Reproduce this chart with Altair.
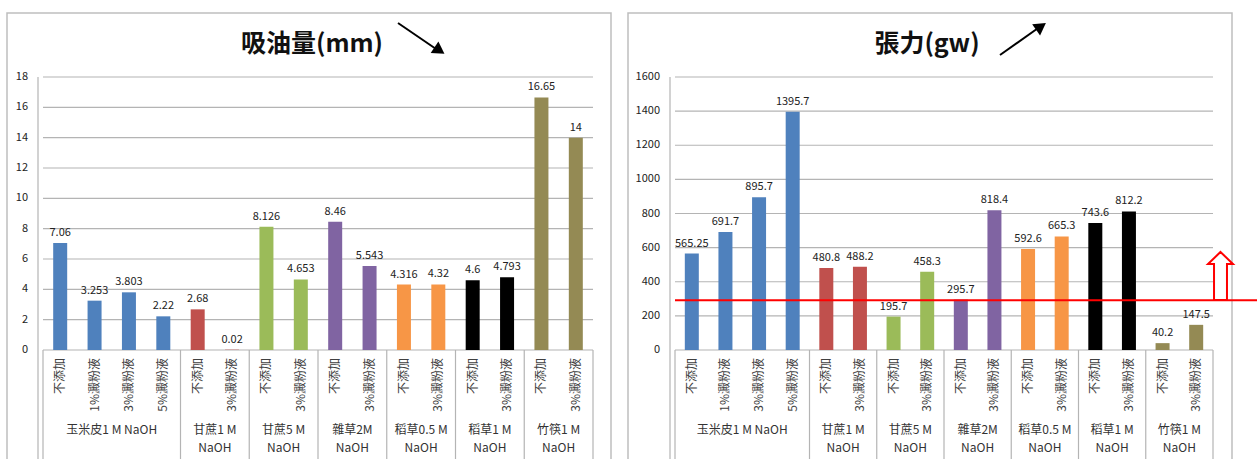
import altair as alt
import pandas as pd

# ---------------- data ----------------
groups = ["玉米皮1 M NaOH", "甘蔗1 M\nNaOH", "甘蔗5 M\nNaOH", "雜草2M\nNaOH",
          "稻草0.5 M\nNaOH", "稻草1 M\nNaOH", "竹筷1 M\nNaOH"]
group_sizes = [4, 2, 2, 2, 2, 2, 2]
group_colors = ["#4F81BD", "#C0504D", "#9BBB59", "#8064A2", "#F79646", "#000000", "#948A54"]
sub_labels = ["不添加", "1%澱粉液", "3%澱粉液", "5%澱粉液",
              "不添加", "3%澱粉液", "不添加", "3%澱粉液", "不添加", "3%澱粉液",
              "不添加", "3%澱粉液", "不添加", "3%澱粉液", "不添加", "3%澱粉液"]
oil_values = [7.06, 3.253, 3.803, 2.22, 2.68, 0.02, 8.126, 4.653,
              8.46, 5.543, 4.316, 4.32, 4.6, 4.793, 16.65, 14]
tension_values = [565.25, 691.7, 895.7, 1395.7, 480.8, 488.2, 195.7, 458.3,
                  295.7, 818.4, 592.6, 665.3, 743.6, 812.2, 40.2, 147.5]
oil_ticks = [0, 2, 4, 6, 8, 10, 12, 14, 16, 18]
tension_ticks = [0, 200, 400, 600, 800, 1000, 1200, 1400, 1600]
tension_threshold = 292

FONT = "Noto Sans CJK TC"
GRID = "#B4B4B4"
FRAME = "#BEBEBE"

# --------------- tables ---------------
n = len(sub_labels)
bar_group = []
for gi, s in enumerate(group_sizes):
    bar_group += [gi] * s
bounds = [0]
for s in group_sizes:
    bounds.append(bounds[-1] + s)
centers = [(bounds[i] + bounds[i + 1]) / 2 for i in range(len(groups))]

one = pd.DataFrame({"a": [0]})


def panel(values, ticks, ymax, xr, label_x, frame, title, title_x, arrow, extra=None):
    xs = alt.Scale(domain=[0, n], range=xr, nice=False, zero=False)
    ys = alt.Scale(domain=[0, ymax], range=[350, 77], nice=False, zero=False)
    bars = pd.DataFrame({
        "pos": [i + 0.5 for i in range(n)],
        "value": values,
        "sub": sub_labels,
        "color": [group_colors[g] for g in bar_group],
    })
    tick_df = pd.DataFrame({"t": ticks, "x0": [0] * len(ticks), "x1": [n] * len(ticks)})
    bound_df = pd.DataFrame({"b": bounds})
    grp_df = pd.DataFrame({"c": centers, "name": groups})

    X = lambda f: alt.X(f, type="quantitative", scale=xs, axis=None)
    Y = lambda f: alt.Y(f, type="quantitative", scale=ys, axis=None)

    frame_l = alt.Chart(one).mark_rect(fillOpacity=0, stroke=FRAME, strokeWidth=1.5).encode(
        x=alt.value(frame[0]), x2=alt.value(frame[1]), y=alt.value(13), y2=alt.value(480))
    grid = alt.Chart(tick_df).mark_rule(color=GRID, strokeWidth=1.2).encode(
        x=X("x0"), x2="x1", y=Y("t"))
    ylabels = alt.Chart(tick_df).mark_text(align="right", baseline="middle", font=FONT,
                                           fontSize=11, color="#222222").encode(
        x=alt.value(label_x), y=Y("t"), text=alt.Text("t:Q", format="d"))
    yaxis = alt.Chart(one).mark_rule(color=GRID, strokeWidth=1.2).encode(
        x=alt.value(xr[0]), y=alt.value(77), y2=alt.value(470))
    seps = alt.Chart(bound_df).mark_rule(color=GRID, strokeWidth=1.2).encode(
        x=X("b"), y=alt.value(350), y2=alt.value(470))
    bar_l = alt.Chart(bars).mark_bar(size=14).encode(
        x=X("pos"), y=Y("value"), color=alt.Color("color:N", scale=None))
    val_l = alt.Chart(bars).mark_text(baseline="bottom", dy=-5, font=FONT, fontSize=11,
                                      color="#222222").encode(
        x=X("pos"), y=Y("value"), text=alt.Text("value:Q", format="~g"))
    sub_l = alt.Chart(bars).mark_text(angle=270, align="right", baseline="middle", font=FONT,
                                      fontSize=12, color="#404040").encode(
        x=X("pos"), y=alt.value(358), text="sub:N")
    grp_l = alt.Chart(grp_df).mark_text(baseline="top", lineBreak="\n", lineHeight=18,
                                        font=FONT, fontSize=12, color="#333333").encode(
        x=X("c"), y=alt.value(425), text="name:N")
    title_l = alt.Chart(one).mark_text(font=FONT, fontSize=25, fontWeight="bold",
                                       baseline="middle", color="#111111").encode(
        x=alt.value(title_x), y=alt.value(44), text=alt.value(title))
    (x0, y0, x1, y1, hx, hy, ang) = arrow
    arr_line = alt.Chart(one).mark_rule(color="black", strokeWidth=2).encode(
        x=alt.value(x0), y=alt.value(y0), x2=alt.value(x1), y2=alt.value(y1))
    arr_head = alt.Chart(one).mark_point(shape="triangle-up", filled=True, color="black",
                                         size=190, angle=ang, opacity=1).encode(
        x=alt.value(hx), y=alt.value(hy))
    layers = [frame_l, grid, yaxis, seps, bar_l, val_l, ylabels, sub_l, grp_l,
              title_l, arr_line, arr_head]
    if extra is not None:
        thr = pd.DataFrame({"t": [extra], "x0": [0]})
        red = alt.Chart(thr).mark_rule(color="#FF0000", strokeWidth=2).encode(
            x=X("x0"), x2=alt.value(1257), y=Y("t"))
        arrow_path = "M0,-1 L0.52,-0.5 L0.27,-0.5 L0.27,1 L-0.27,1 L-0.27,-0.5 L-0.52,-0.5 Z"
        up = alt.Chart(one).mark_point(shape=arrow_path, filled=True, fill="white",
                                       stroke="#FF0000", strokeWidth=2, size=2304,
                                       opacity=1).encode(
            x=alt.value(1220.5), y=alt.value(276))
        layers += [red, up]
    return alt.layer(*layers)


left = panel(oil_values, oil_ticks, 18, [38, 598], 28, (7, 611), "吸油量(mm)", 312,
             (398, 23, 439, 51, 439.5, 50.5, 124))
right = panel(tension_values, tension_ticks, 1600, [670, 1218], 660, (628, 1232), "張力(gw)", 927,
              (1000, 55, 1041, 26, 1041, 26.5, 55), extra=tension_threshold)

chart = alt.layer(left, right).resolve_scale(x="independent", y="independent").properties(
    width=1257, height=459, autosize=alt.AutoSizeParams(type="none"), padding=0,
    background="white"
).configure_view(stroke=None)

chart.save("out.html", embed_options={"renderer": "svg", "actions": False})
